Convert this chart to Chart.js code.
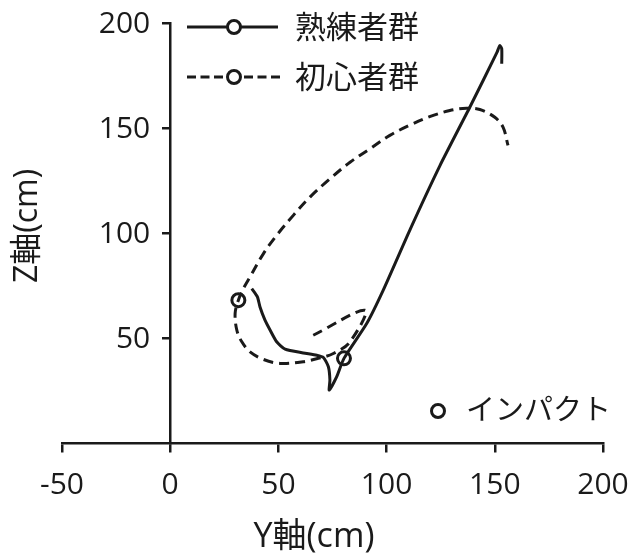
<!DOCTYPE html>
<html lang="ja">
<head>
  <meta charset="UTF-8">
  <title>Y-Z swing path</title>
  <script src="https://cdn.jsdelivr.net/npm/chart.js"></script>
  <style>
    body {
      margin: 0;
      background: #fff;
    }
    .chart-container {
      position: relative;
      width: 633px;
      height: 560px;
    }
  </style>
</head>
<body>
  <div class="chart-container">
    <canvas id="pathChart"></canvas>
  </div>

  <script>
    // 熟練者群 (solid)
    const expertY = [37.7, 40.3, 41.5, 43.8, 46.2, 49.2, 53.1, 61.5, 67.7, 70.8, 73.1, 73.8, 73.5,
                     76.9, 80.3, 90.8, 98.4, 111.0, 124.6, 138.5, 151.0, 152.3, 153.2, 153.2];
    const expertZ = [73.5, 69.6, 64.8, 58.5, 53.7, 48.2, 44.7, 42.9, 41.8, 40.7, 36.3, 30.0, 25.2,
                     31.5, 40.3, 56.9, 72.7, 102.0, 132.0, 160.0, 186.0, 189.2, 187.8, 180.6];

    // 初心者群 (dashed)
    const noviceY = [66.1, 90.0, 83.1, 75.4, 68.4, 61.5, 50.8, 43.1, 36.9, 33.1, 30.8, 30.0, 31.5,
                     33.8, 36.9, 43.1, 49.2, 56.9, 64.6, 73.8, 83.1, 92.3, 101.5, 110.8, 119.9,
                     129.2, 136.9, 143.1, 150.0, 153.8, 156.1];
    const noviceZ = [51.3, 63.2, 48.2, 42.6, 40.3, 38.7, 37.9, 39.8, 43.4, 48.2, 53.7, 61.7, 68.0,
                     73.5, 79.1, 90.2, 98.9, 108.4, 117.1, 125.8, 133.7, 140.1, 146.5, 151.4, 155.4,
                     158.3, 159.4, 158.8, 155.1, 150.4, 141.7];

    // インパクト points: expert, novice
    const impactY = [80.3, 31.5];
    const impactZ = [40.3, 68.0];

    const xTicks = [-50, 0, 50, 100, 150, 200];
    const yTicks = [50, 100, 150, 200];

    const FONT = '"Open Sans", "Noto Sans CJK JP", sans-serif';
    const INK = '#1a1a1a';

    const toPoints = (xs, ys) => xs.map((x, i) => ({ x: x, y: ys[i] }));

    // keep the plot area set by layout padding only
    const noPadding = s => { s.paddingLeft = 0; s.paddingRight = 0; s.paddingTop = 0; s.paddingBottom = 0; };

    // legend, note, y tick labels and axis titles drawn on top
    const annotations = {
      id: 'annotations',
      afterDraw(chart) {
        const ctx = chart.ctx;
        const xs = chart.scales.x;
        const ys = chart.scales.y;
        ctx.save();
        ctx.strokeStyle = INK;
        ctx.fillStyle = INK;
        ctx.lineWidth = 3;
        ctx.textBaseline = 'middle';

        function marker(x, y) {
          ctx.save();
          ctx.setLineDash([]);
          ctx.beginPath();
          ctx.arc(x, y, 6.5, 0, Math.PI * 2);
          ctx.fillStyle = '#fff';
          ctx.fill();
          ctx.stroke();
          ctx.restore();
        }

        // y tick labels, left of the axis at x = 0
        ctx.font = '30px ' + FONT;
        ctx.textAlign = 'right';
        const axisX = xs.getPixelForValue(0);
        yTicks.forEach(v => ctx.fillText(String(v), axisX - 20, ys.getPixelForValue(v) + 1));
        ctx.textAlign = 'left';

        // row 1: solid
        ctx.font = '31px ' + FONT;
        ctx.beginPath();
        ctx.moveTo(187, 27);
        ctx.lineTo(278, 27);
        ctx.stroke();
        marker(234, 27);
        ctx.fillText('熟練者群', 295, 29);

        // row 2: dashed
        ctx.setLineDash([9, 4.5]);
        ctx.beginPath();
        ctx.moveTo(187, 77);
        ctx.lineTo(224, 77);
        ctx.moveTo(244, 77);
        ctx.lineTo(280, 77);
        ctx.stroke();
        ctx.setLineDash([]);
        marker(234, 77);
        ctx.fillText('初心者群', 295, 79);

        // impact note
        ctx.font = '29px ' + FONT;
        marker(438, 411);
        ctx.fillText('インパクト', 466, 412);

        // axis titles
        ctx.textAlign = 'center';
        ctx.font = '34px ' + FONT;
        ctx.fillText('Y軸(cm)', 314, 537);
        ctx.font = '32px ' + FONT;
        ctx.translate(28, 226);
        ctx.rotate(-Math.PI / 2);
        ctx.fillText('Z軸(cm)', 0, 0);
        ctx.restore();
      }
    };

    new Chart(document.getElementById('pathChart'), {
      type: 'scatter',
      data: {
        datasets: [
          {
            label: '熟練者群',
            data: toPoints(expertY, expertZ),
            showLine: true,
            borderColor: INK,
            borderWidth: 3,
            pointRadius: 0,
            tension: 0.2
          },
          {
            label: '初心者群',
            data: toPoints(noviceY, noviceZ),
            showLine: true,
            borderColor: INK,
            borderWidth: 3,
            borderDash: [10, 6],
            pointRadius: 0,
            tension: 0.35
          },
          {
            label: 'インパクト',
            data: toPoints(impactY, impactZ),
            showLine: false,
            pointRadius: 6.5,
            pointBorderWidth: 3,
            pointBackgroundColor: '#fff',
            pointBorderColor: INK
          }
        ]
      },
      options: {
        responsive: true,
        maintainAspectRatio: false,
        animation: false,
        layout: {
          padding: { left: 62, right: 30, top: 23, bottom: 117 }
        },
        plugins: {
          legend: { display: false },
          tooltip: { enabled: false }
        },
        scales: {
          x: {
            type: 'linear',
            min: -50,
            max: 200,
            position: { y: 0 },
            afterBuildTicks: axis => { axis.ticks = xTicks.map(v => ({ value: v })); },
            afterFit: noPadding,
            ticks: { color: INK, font: { family: FONT, size: 30 }, padding: 16, maxRotation: 0 },
            grid: { drawOnChartArea: false, tickLength: 8, color: INK, lineWidth: 2.5 },
            border: { color: INK, width: 2.5 }
          },
          y: {
            type: 'linear',
            min: 0,
            max: 200,
            position: { x: 0 },
            afterBuildTicks: axis => { axis.ticks = yTicks.map(v => ({ value: v })); },
            afterFit: noPadding,
            ticks: { display: false },
            grid: { drawOnChartArea: false, tickLength: 7, color: INK, lineWidth: 2.5 },
            border: { color: INK, width: 2.5 }
          }
        }
      },
      plugins: [annotations]
    });
  </script>
</body>
</html>
